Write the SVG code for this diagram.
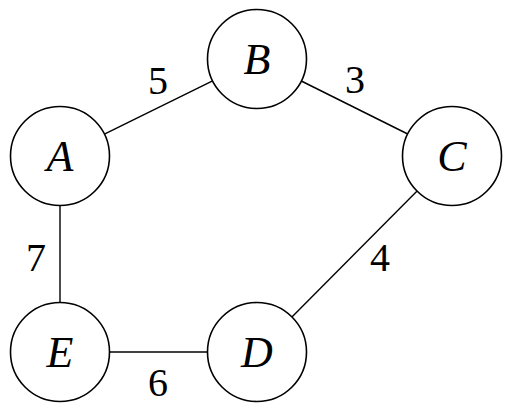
<svg xmlns="http://www.w3.org/2000/svg" width="512" height="410" viewBox="0 0 512 410">
<style>
.node circle{fill:#fff;stroke:#000;stroke-width:1.6}
.node text{font-family:"Liberation Serif",serif;font-style:italic;font-size:44px;text-anchor:middle}
.edges line{stroke:#000;stroke-width:1.4}
.lbl{font-family:"Liberation Serif",serif;font-size:40px;text-anchor:middle}
</style>
<rect width="512" height="410" fill="#fff"/>
<g id="edges" class="edges">
<line x1="104.4" y1="134.1" x2="212.6" y2="80.9"/>
<line x1="301.3" y1="81" x2="407.7" y2="134"/>
<line x1="417.1" y1="191.1" x2="291.9" y2="316.9"/>
<line x1="60" y1="205.5" x2="60" y2="302.5"/>
<line x1="109.5" y1="352" x2="207.5" y2="352"/>
<text class="lbl" x="158" y="94">5</text>
<text class="lbl" x="355" y="93">3</text>
<text class="lbl" x="380" y="271">4</text>
<text class="lbl" x="36" y="271">7</text>
<text class="lbl" x="158" y="396">6</text>
</g>
<g id="A" class="node"><circle cx="60" cy="156" r="49.5"/><text x="60" y="171">A</text></g>
<g id="B" class="node"><circle cx="257" cy="59" r="49.5"/><text x="257" y="74">B</text></g>
<g id="C" class="node"><circle cx="452" cy="156" r="49.5"/><text x="452" y="171">C</text></g>
<g id="D" class="node"><circle cx="257" cy="352" r="49.5"/><text x="257" y="367">D</text></g>
<g id="E" class="node"><circle cx="60" cy="352" r="49.5"/><text x="60" y="367">E</text></g>
</svg>
